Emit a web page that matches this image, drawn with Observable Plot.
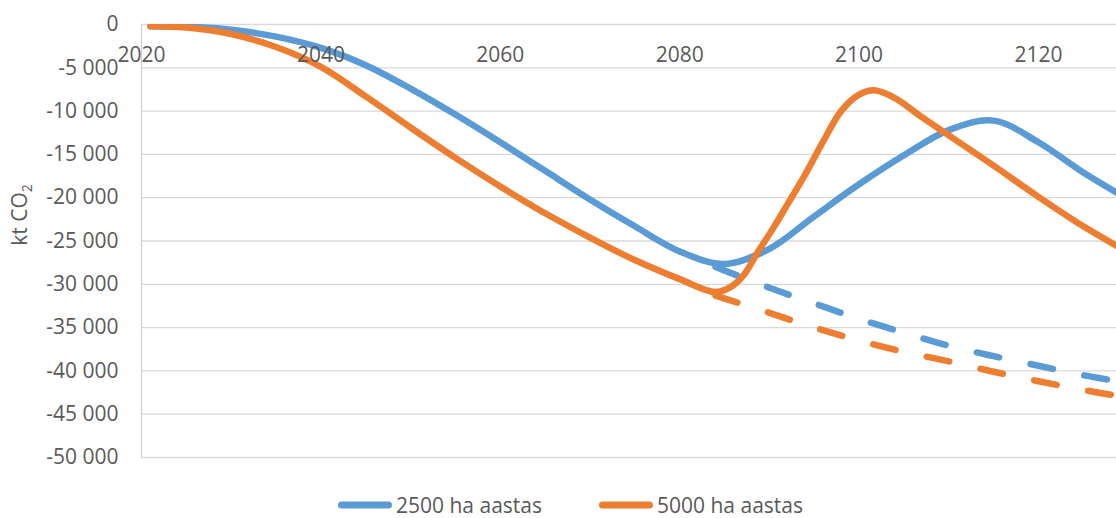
<!DOCTYPE html>
<html>
<head>
<meta charset="utf-8">
<script src="https://cdn.jsdelivr.net/npm/d3@7"></script>
<script src="https://cdn.jsdelivr.net/npm/@observablehq/plot@0.6"></script>
<style>
  html, body { margin: 0; padding: 0; background: #fff; }
  #wrap { position: relative; width: 1116px; height: 518px; font-family: "Open Sans", sans-serif; }
  #legend { position: absolute; left: 338px; top: 495px; height: 20px; display: flex; align-items: center; font-size: 21px; color: #595959; line-height: 20px; white-space: nowrap; }
  .item { display: flex; align-items: center; }
  .item + .item { margin-left: 57px; }
  .item svg { margin-right: 4px; }
</style>
</head>
<body>
<div id="wrap">
  <div id="chart"></div>
  <div id="legend"></div>
</div>
<script>
// ---- data ----
const xTickLabels = [2020, 2040, 2060, 2080, 2100, 2120];
const yTicks = [0, -5000, -10000, -15000, -20000, -25000, -30000, -35000, -40000, -45000, -50000];

const seriesNames = ["2500 ha aastas", "5000 ha aastas"];
const seriesColors = ["#5B9BD5", "#ED7D31"];

// 2500 ha aastas (solid)
const years2500 = [2021, 2025, 2030, 2035, 2040, 2045, 2050, 2055, 2060, 2065, 2070, 2075, 2080, 2085, 2090, 2095, 2100, 2105, 2110, 2115, 2120, 2125, 2130];
const values2500 = [-200, -250, -600, -1400, -2700, -4700, -7400, -10400, -13600, -16900, -20200, -23300, -26200, -27650, -25900, -22150, -18450, -15100, -12200, -11100, -13600, -17100, -20200];

// 5000 ha aastas (solid)
const years5000 = [2021, 2025, 2030, 2035, 2040, 2045, 2050, 2055, 2060, 2065, 2070, 2075, 2080, 2084, 2085.7, 2087.1, 2088.7, 2090.5, 2092, 2094, 2096, 2098, 2100, 2101.7, 2104, 2107, 2110, 2115, 2120, 2125, 2130];
const values5000 = [-200, -350, -1100, -2600, -4900, -8300, -11900, -15400, -18700, -21800, -24600, -27200, -29400, -30900, -30300, -29000, -26300, -23400, -20800, -17300, -13500, -10000, -8100, -7600, -8500, -10700, -12800, -16300, -19900, -23300, -26300];

// dashed continuations
const yearsDashed = [2084, 2090, 2095, 2100, 2105, 2110, 2115, 2120, 2125, 2130];
const values2500Dashed = [-28000, -30400, -32200, -34000, -35600, -37100, -38300, -39400, -40500, -41400];
const values5000Dashed = [-31300, -33300, -35000, -36500, -37800, -38900, -40100, -41200, -42200, -43100];

// ---- build tables ----
const zip = (xs, ys) => xs.map((x, i) => ({x, y: ys[i]}));
const s2500 = zip(years2500, values2500);
const s5000 = zip(years5000, values5000);
const d2500 = zip(yearsDashed, values2500Dashed);
const d5000 = zip(yearsDashed, values5000Dashed);

const fmt = d => (d < 0 ? "-" : "") + Math.abs(d).toString().replace(/\B(?=(\d{3})+(?!\d))/g, " ");

const lw = 6.5;
const plot = Plot.plot({
  width: 1116,
  height: 478,
  marginTop: 24,
  marginBottom: 21,
  marginLeft: 141,
  marginRight: 0,
  style: { fontFamily: "Open Sans, sans-serif", fontSize: "21px", color: "#595959", background: "#fff" },
  x: { domain: [2020, 2128.7], axis: null },
  y: { domain: [-50000, 0], axis: null },
  marks: [
    Plot.ruleY(yTicks, { stroke: "#d9d9d9", strokeWidth: 1.3 }),
    Plot.ruleX([2020], { y1: -50000, y2: 0, stroke: "#d0d0d0", strokeWidth: 1.3 }),
    Plot.axisY({ ticks: yTicks, tickSize: 0, tickPadding: 23, tickFormat: fmt, label: null, fontSize: 21 }),
    Plot.line(d2500, { x: "x", y: "y", stroke: seriesColors[0], strokeWidth: lw, strokeDasharray: "23,32", strokeLinecap: "round", curve: "catmull-rom", clip: true }),
    Plot.line(d5000, { x: "x", y: "y", stroke: seriesColors[1], strokeWidth: lw, strokeDasharray: "23,32", strokeLinecap: "round", curve: "catmull-rom", clip: true }),
    Plot.line(s2500, { x: "x", y: "y", stroke: seriesColors[0], strokeWidth: lw, strokeLinecap: "round", strokeLinejoin: "round", curve: "catmull-rom", clip: true }),
    Plot.line(s5000, { x: "x", y: "y", stroke: seriesColors[1], strokeWidth: lw, strokeLinecap: "round", strokeLinejoin: "round", curve: "catmull-rom", clip: true }),
    Plot.text(xTickLabels, { x: d => d, y: 0, dy: 31, text: d => String(d), fill: "#595959", fontSize: 21 })
  ]
});
document.getElementById("chart").appendChild(plot);

// y-axis title with subscript
const svg = d3.select(plot);
const t = svg.append("text")
  .attr("transform", "translate(27,215) rotate(-90)")
  .attr("text-anchor", "middle")
  .attr("fill", "#595959")
  .style("font-size", "21px")
  .style("font-family", "Open Sans, sans-serif");
t.append("tspan").text("kt CO");
t.append("tspan").attr("dy", 5).style("font-size", "14px").text("2");

// legend
const legend = d3.select("#legend");
seriesNames.forEach((name, i) => {
  const item = legend.append("div").attr("class", "item");
  const sw = item.append("svg").attr("width", 54).attr("height", 12);
  sw.append("line").attr("x1", 3.5).attr("x2", 50.5).attr("y1", 6).attr("y2", 6)
    .attr("stroke", seriesColors[i]).attr("stroke-width", 7).attr("stroke-linecap", "round");
  item.append("span").text(name);
});
</script>
</body>
</html>
